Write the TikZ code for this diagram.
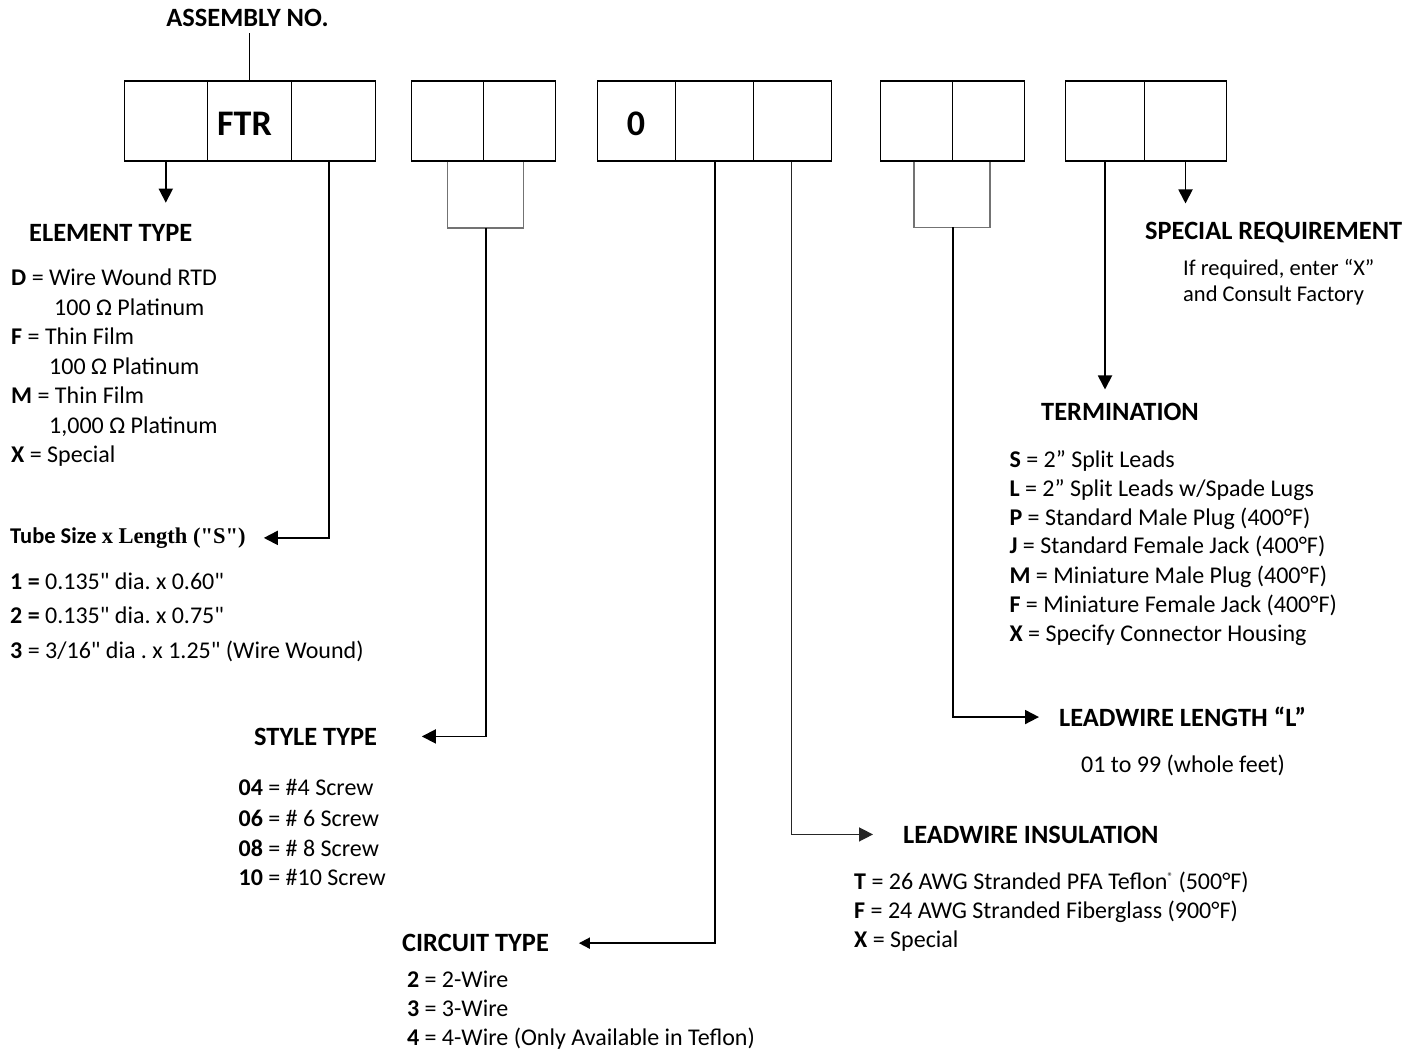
\documentclass[tikz,border=0pt]{standalone}
\usepackage{fontspec}
\setmainfont{Carlito}
\newfontfamily\tms{Liberation Serif}
\usetikzlibrary{arrows.meta}
\frenchspacing
\newcommand\sq{\XeTeXglyph\XeTeXcharglyph"22\relax}
\newcommand\fbody{\fontsize{24}{29.3}\selectfont}
\newcommand\fhead{\fontsize{26.4}{31}\selectfont}
\newcommand\fbig{\fontsize{36}{40}\selectfont}
\newcommand\fspec{\fontsize{22.5}{27}\selectfont}
\tikzset{
  cell/.style={draw, line width=1.3pt, minimum height=80pt, inner sep=0pt},
  conn/.style={line width=1.8pt},
  brk/.style={line width=1.3pt, draw=black!55},
  tip/.style={-{Triangle[length=14pt,width=14pt]}},
  smalltip/.style={-{Triangle[length=11pt,width=11pt]}},
  hd/.style={font=\fhead\bfseries, inner sep=0pt, anchor=base west},
  tx/.style={font=\fbody, inner sep=0pt, anchor=base west},
  sp/.style={font=\fspec, inner sep=0pt, anchor=base west},
  big/.style={font=\fbig\bfseries, inner sep=0pt, anchor=base},
}
\begin{document}
\begin{tikzpicture}[x=1pt, y=-1pt]
\fill[white] (0,0) rectangle (1424,1051);
\useasboundingbox (0,0) rectangle (1424,1051);

% cells
\node[cell, minimum width=83pt]   (c11) at (165.8,121) {};
\node[cell, minimum width=84pt]   (c12) at (249.3,121) {};
\node[cell, minimum width=84pt]   (c13) at (333.3,121) {};
\node[cell, minimum width=72pt]   (c21) at (447.3,121) {};
\node[cell, minimum width=72.4pt] (c22) at (519.5,121) {};
\node[cell, minimum width=77.8pt] (c31) at (636.4,121) {};
\node[cell, minimum width=78pt]   (c32) at (714.3,121) {};
\node[cell, minimum width=78.4pt] (c33) at (792.5,121) {};
\node[cell, minimum width=72pt]   (c41) at (916.3,121) {};
\node[cell, minimum width=72pt]   (c42) at (988.3,121) {};
\node[cell, minimum width=78.6pt] (c51) at (1105,121) {};
\node[cell, minimum width=82.4pt] (c52) at (1185.5,121) {};

\node[big] (ftr) at (244.5,136) {FTR};
\node[big] (zero) at (636,136) {0};

% headings
\node[hd, anchor=base] (asm) at (247.5,26.7) {ASSEMBLY NO.};
\node[hd] (elem) at (29,241) {ELEMENT TYPE};
\node[tx, font=\fspec] (tube) at (10,543.3) {\textbf{Tube Size} {\tms\bfseries x Length (\sq S\sq)}};
\node[hd] (style) at (254,745) {STYLE TYPE};
\node[hd] (circ) at (402,951.7) {CIRCUIT TYPE};
\node[hd] (ins) at (903,843) {LEADWIRE INSULATION};
\node[hd] (ll) at (1059,726.7) {LEADWIRE LENGTH “L”};
\node[hd] (term) at (1041,420.7) {TERMINATION};
\node[hd] (spec) at (1145,239.3) {SPECIAL REQUIREMENT};

% element list
\node[tx] (e1) at (11,285.7) {\textbf{D} = Wire Wound RTD};
\node[tx] (e2) at (54,315.2) {100 Ω Platinum};
\node[tx] (e3) at (11,344.6) {\textbf{F} = Thin Film};
\node[tx] (e4) at (49,374.1) {100 Ω Platinum};
\node[tx] (e5) at (11,403.5) {\textbf{M} = Thin Film};
\node[tx] (e6) at (49,433) {1,000 Ω Platinum};
\node[tx] (e7) at (11,462.4) {\textbf{X} = Special};

% tube list
\node[tx] (t1) at (10,589.3) {\textbf{1 =} 0.135\sq\ dia. x 0.60\sq};
\node[tx] (t2) at (10,623.5) {\textbf{2 =} 0.135\sq\ dia. x 0.75\sq};
\node[tx] (t3) at (10,658) {\textbf{3} = 3/16\sq\ dia . x 1.25\sq\ (Wire Wound)};

% style list
\node[tx] (s1) at (238.4,795) {\textbf{04} = \#4 Screw};
\node[tx] (s2) at (238.4,826) {\textbf{06} = \# 6 Screw};
\node[tx] (s3) at (238.4,856) {\textbf{08} = \# 8 Screw};
\node[tx] (s4) at (238.4,885) {\textbf{10} = \#10 Screw};

% circuit list
\node[tx] (r1) at (406.8,987) {\textbf{2} = 2-Wire};
\node[tx] (r2) at (406.8,1016) {\textbf{3} = 3-Wire};
\node[tx] (r3) at (406.8,1045) {\textbf{4} = 4-Wire (Only Available in Teflon)};

% insulation list
\node[tx] (i1) at (854,889.3) {\textbf{T} = 26 AWG Stranded PFA Teflon{\fontsize{11}{11}\selectfont\raisebox{9pt}{®}}\ (500°F)};
\node[tx] (i2) at (854,918.3) {\textbf{F} = 24 AWG Stranded Fiberglass (900°F)};
\node[tx] (i3) at (854,947.3) {\textbf{X} = Special};

% leadwire length
\node[tx] (l1) at (1081,772.7) {01 to 99 (whole feet)};

% termination list
\node[tx] (m1) at (1009.3,467) {\textbf{S} = 2” Split Leads};
\node[tx] (m2) at (1009.3,496) {\textbf{L} = 2” Split Leads w/Spade Lugs};
\node[tx] (m3) at (1009.3,525) {\textbf{P} = Standard Male Plug (400°F)};
\node[tx] (m4) at (1009.3,553.5) {\textbf{J} = Standard Female Jack (400°F)};
\node[tx] (m5) at (1009.3,583) {\textbf{M} = Miniature Male Plug (400°F)};
\node[tx] (m6) at (1009.3,612) {\textbf{F} = Miniature Female Jack (400°F)};
\node[tx] (m7) at (1009.3,641) {\textbf{X} = Specify Connector Housing};

% special
\node[sp] (p1) at (1183,275) {If required, enter “X”};
\node[sp] (p2) at (1183,301.7) {and Consult Factory};

% bracket joints
\coordinate (sbr) at (486,228);
\coordinate (lbr) at (953.3,227.3);

% connectors
\draw[line width=1pt] ([yshift=-6pt]asm.south -| c12.north) -- (c12.north);
\draw[conn, tip, shorten >=21pt] (c11.south) -- (c11.south |- elem.north);
\draw[conn, tip, shorten >=18pt] ([xshift=-4.6pt]c13.south) |- (tube.east);
\draw[brk] ([xshift=0.4pt]c21.south) |- (sbr) -| ([xshift=4.2pt]c22.south);
\draw[conn, tip, shorten >=44.7pt] (sbr) |- (style.east);
\draw[conn, smalltip, shorten >=29.8pt] ([xshift=1pt]c32.south) |- (circ.east);
\draw[line width=1.5pt, draw=black!85, tip, shorten >=30pt] ([xshift=-1.2pt]c33.south) |- (ins.west);
\draw[brk] ([xshift=-2.3pt]c41.south) |- (lbr) -| ([xshift=1.7pt]c42.south);
\draw[conn, tip, shorten >=20pt] (lbr) |- (ll.west);
\draw[conn, tip, shorten >=13.7pt] (c51.south) -- (c51.south |- term.north);
\draw[conn, tip, shorten >=18.3pt] (c52.south) -- (c52.south |- spec.north);
\end{tikzpicture}
\end{document}
